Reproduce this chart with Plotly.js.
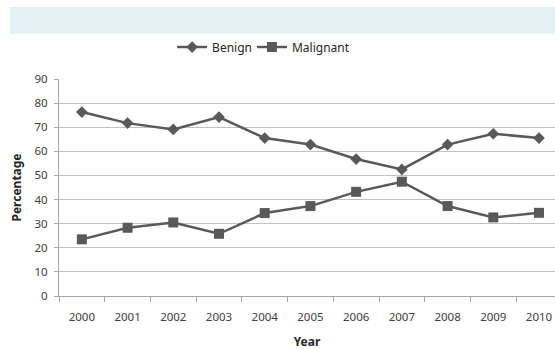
<!DOCTYPE html>
<html>
<head>
<meta charset="utf-8">
<script src="https://cdn.plot.ly/plotly-3.0.1.min.js"></script>
<style>html,body{margin:0;padding:0;background:#fff;}#chart{width:555px;height:350px;}</style>
</head>
<body>
<div id="chart"></div>
<script>
var years = ['2000','2001','2002','2003','2004','2005','2006','2007','2008','2009','2010'];
var benign = [76.3, 71.7, 69.1, 74.2, 65.5, 62.8, 56.8, 52.5, 62.8, 67.3, 65.5];
var malignant = [23.5, 28.3, 30.5, 25.8, 34.4, 37.3, 43.2, 47.4, 37.3, 32.6, 34.5];
var yTicks = [0,10,20,30,40,50,60,70,80,90];

var lineColor = '#595959';
var font = {family: 'Noto Sans, Open Sans, sans-serif', size: 11.5, color: '#404040'};
var legFont = {family: font.family, size: 12, color: '#262626'};

var traces = [
  {x: years, y: benign, name: 'Benign', type: 'scatter', mode: 'lines+markers', legend: 'legend',
   line: {color: lineColor, width: 2.5}, marker: {symbol: 'diamond', size: 9, color: lineColor}},
  {x: years, y: malignant, name: 'Malignant', type: 'scatter', mode: 'lines+markers', legend: 'legend2',
   line: {color: lineColor, width: 2.5}, marker: {symbol: 'square', size: 10, color: lineColor}}
];

var layout = {
  width: 555, height: 350,
  margin: {l: 59, r: 0, t: 79, b: 54, autoexpand: false},
  paper_bgcolor: '#ffffff', plot_bgcolor: '#ffffff',
  font: font,
  showlegend: true,
  legend: {orientation: 'h', x: 0.228, xanchor: 'left', y: 1.147, yanchor: 'middle', font: legFont, bgcolor: 'rgba(0,0,0,0)'},
  legend2: {orientation: 'h', x: 0.389, xanchor: 'left', y: 1.147, yanchor: 'middle', font: legFont, bgcolor: 'rgba(0,0,0,0)'},
  xaxis: {
    type: 'category', range: [-0.5, 10.35],
    showgrid: false, showline: true, linecolor: '#a6a6a6', linewidth: 1,
    ticks: 'outside', ticklen: 5, tickcolor: '#a6a6a6', tickson: 'boundaries',
    ticklabelstandoff: 10,
    tickfont: font, fixedrange: true, automargin: false,
    title: {text: '<b>Year</b>', font: legFont, standoff: 16}
  },
  yaxis: {
    range: [0, 90], tickvals: yTicks, ticktext: yTicks.map(String),
    showgrid: true, gridcolor: '#c0c0c0', gridwidth: 1,
    showline: true, linecolor: '#a6a6a6', linewidth: 1,
    ticks: 'outside', ticklen: 4, tickcolor: '#a6a6a6',
    ticklabelstandoff: 4,
    zeroline: false, tickfont: font, fixedrange: true, automargin: false,
    title: {text: '<b>Percentage</b>', font: legFont, standoff: 10}
  },
  shapes: [{type: 'rect', xref: 'paper', yref: 'paper', x0: -0.099, x1: 1.01, y0: 1.208, y1: 1.332,
            fillcolor: '#e3f1f5', line: {width: 0}, layer: 'below'}]
};

Plotly.newPlot('chart', traces, layout, {displayModeBar: false, staticPlot: true});
</script>
</body>
</html>
